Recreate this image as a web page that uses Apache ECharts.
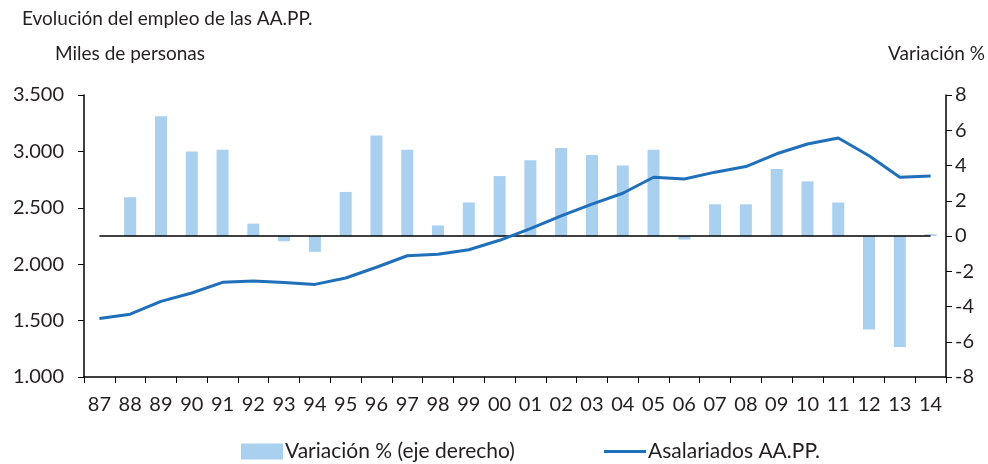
<!DOCTYPE html>
<html>
<head>
<meta charset="utf-8">
<script src="https://cdn.jsdelivr.net/npm/echarts@6/dist/echarts.min.js"></script>
<style>
  body { margin: 0; background: #fff; }
  #main { width: 988px; height: 464px; }
</style>
</head>
<body>
<div id="main"></div>
<script>
var years = ['87', '88', '89', '90', '91', '92', '93', '94', '95', '96', '97', '98', '99', '00',
  '01', '02', '03', '04', '05', '06', '07', '08', '09', '10', '11', '12', '13', '14'];

// variacion % (eje derecho)
var variacion = [null, 2.2, 6.8, 4.8, 4.9, 0.7, -0.3, -0.9, 2.5, 5.7, 4.9, 0.6, 1.9, 3.4,
  4.3, 5.0, 4.6, 4.0, 4.9, -0.2, 1.8, 1.8, 3.8, 3.1, 1.9, -5.3, -6.3, 0.1];

// asalariados AA.PP., miles de personas
var asalariados = [1518, 1557, 1670, 1745, 1839, 1851, 1837, 1821, 1878, 1973, 2075, 2089, 2128, 2212,
  2316, 2429, 2533, 2629, 2771, 2756, 2816, 2866, 2979, 3066, 3119, 2962, 2771, 2783];

var leftTicks = [1000, 3500, 500];
var rightTicks = [-8, 8, 2];

var txtColor = '#231f20';
var fontName = 'Lato';
var barColor = '#a9d0ef';
var lineColor = '#1f6fba';

function fmtMiles(v) {
  // 3500 -> 3.500
  var s = String(v);
  if (s.length > 3) s = s.slice(0, s.length - 3) + '.' + s.slice(s.length - 3);
  return s;
}

function setUpChart() {
  var myChart = echarts.init(document.getElementById('main'));

  var option = {
    animation: false,
    textStyle: { fontFamily: fontName, color: txtColor },
    graphic: [
      { type: 'text', left: 22, top: 9, style: { text: 'Evolución del empleo de las AA.PP.', fontSize: 19, fontFamily: fontName, fill: txtColor } },
      { type: 'text', left: 55, top: 44, style: { text: 'Miles de personas', fontSize: 19, fontFamily: fontName, fill: txtColor } },
      { type: 'text', right: 3, top: 44, style: { text: 'Variación %', fontSize: 19, fontFamily: fontName, fill: txtColor } }
    ],
    grid: { left: 84, right: 42, top: 95, bottom: 87 },
    // two legends so the line swatch can be thin
    legend: [
      {
        left: 236,
        top: 436,
        itemWidth: 42,
        itemHeight: 16,
        textStyle: { fontSize: 21, fontFamily: fontName, color: txtColor, padding: [0, 0, 0, -3] },
        data: [{ name: 'Variación % (eje derecho)', icon: 'rect' }]
      },
      {
        left: 599,
        top: 436,
        itemWidth: 42,
        itemHeight: 3,
        textStyle: { fontSize: 21, fontFamily: fontName, color: txtColor, padding: [0, 0, 0, -3] },
        data: [{ name: 'Asalariados AA.PP.', icon: 'rect' }]
      }
    ],
    xAxis: {
      type: 'category',
      data: years,
      axisLine: { onZero: false, lineStyle: { color: '#000', width: 1.5 } },
      axisTick: { show: true, interval: 0, length: 6, lineStyle: { color: '#000' } },
      axisLabel: { interval: 0, fontSize: 20, color: txtColor, margin: 18 }
    },
    yAxis: [
      {
        type: 'value',
        position: 'left',
        min: leftTicks[0],
        max: leftTicks[1],
        interval: leftTicks[2],
        splitLine: { show: false },
        axisLine: { show: true, lineStyle: { color: '#000', width: 1.5 } },
        axisTick: { show: true, length: 6, lineStyle: { color: '#000' } },
        axisLabel: { fontSize: 20, color: txtColor, margin: 20, formatter: fmtMiles }
      },
      {
        type: 'value',
        position: 'right',
        min: rightTicks[0],
        max: rightTicks[1],
        interval: rightTicks[2],
        splitLine: { show: false },
        axisLine: { show: true, lineStyle: { color: '#000', width: 1.5 } },
        axisTick: { show: true, length: 6, lineStyle: { color: '#000' } },
        axisLabel: { fontSize: 20, color: txtColor, margin: 9 }
      }
    ],
    series: [
      {
        name: 'Variación % (eje derecho)',
        type: 'bar',
        yAxisIndex: 1,
        data: variacion,
        barWidth: 12,
        itemStyle: { color: barColor },
        markLine: {
          silent: true,
          symbol: 'none',
          label: { show: false },
          lineStyle: { color: '#000', width: 1.5, type: 'solid' },
          data: [[{ coord: [years[0], 0] }, { coord: [years[years.length - 1], 0] }]]
        }
      },
      {
        name: 'Asalariados AA.PP.',
        type: 'line',
        yAxisIndex: 0,
        data: asalariados,
        symbol: 'none',
        lineStyle: { color: lineColor, width: 3 },
        itemStyle: { color: lineColor },
        z: 5
      }
    ]
  };

  myChart.setOption(option);
}

setUpChart();
</script>
</body>
</html>
